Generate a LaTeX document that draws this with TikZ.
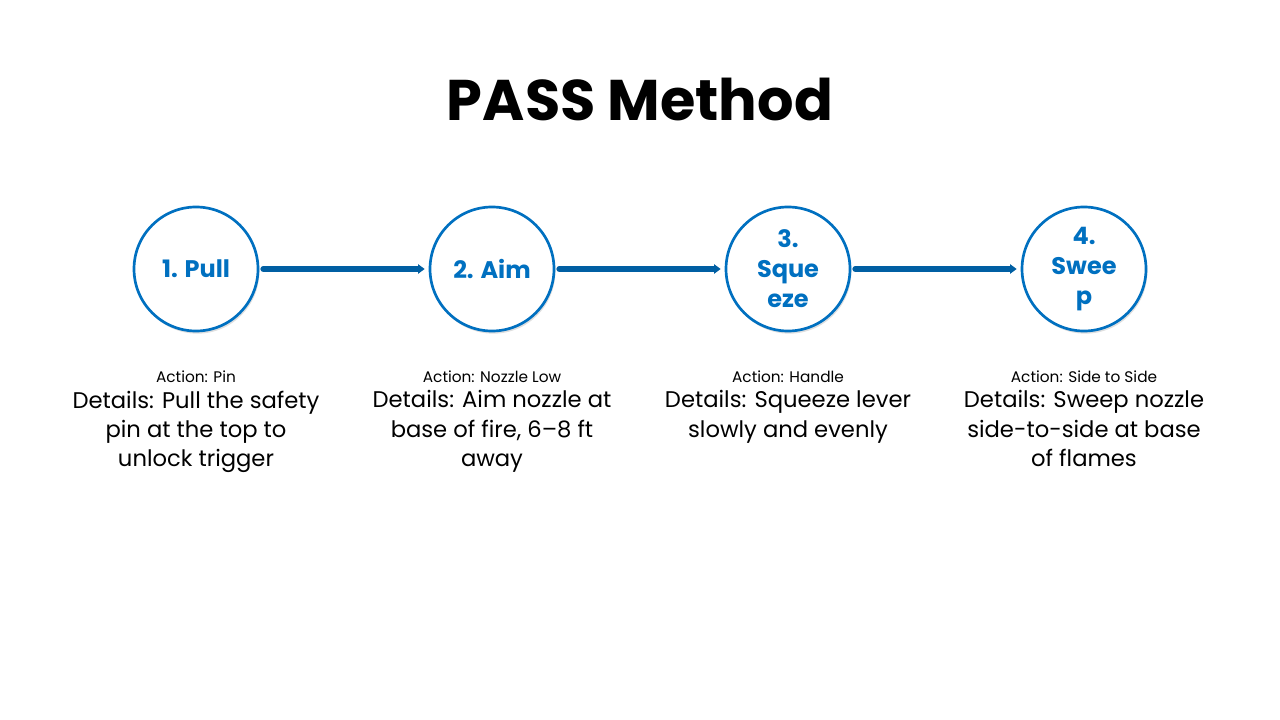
\documentclass[tikz,border=0pt]{standalone}
\usepackage{fontspec}
\setmainfont{Poppins}
\usetikzlibrary{shadows,arrows.meta}
\definecolor{cblue}{RGB}{0,112,192}

\begin{document}
\begin{tikzpicture}[x=0.75pt,y=-0.75pt,line cap=round,line join=round,
  stage/.style={circle,draw=cblue,line width=2pt,fill=white,minimum size=93pt,inner sep=0pt,align=center,
    font=\fontsize{18}{22.5}\selectfont\bfseries,text=cblue,
    drop shadow={shadow xshift=1pt,shadow yshift=-2pt,opacity=0.25}},
  link/.style={-{Triangle[length=5pt,width=7pt]},line width=4.5pt,draw=cblue!85!black,
    shorten <=3pt,shorten >=3pt},
  act/.style={font=\fontsize{11.5}{13}\selectfont,anchor=base},
  info/.style={font=\fontsize{17}{22}\selectfont,align=center,anchor=north}]
\useasboundingbox (0,0) rectangle (1280,720);
\node[font=\fontsize{43}{48}\selectfont\bfseries] (title) at (640,100) {PASS Method};
\node[stage] (s1) at (196,269) {1. Pull};
\node[stage] (s2) at (492,269) {2. Aim};
\node[stage] (s3) at (788,269) {3.\\Sque\\eze};
\node[stage] (s4) at (1084,269) {4.\\Swee\\p};
\draw[link] (s1) -- (s2);
\draw[link] (s2) -- (s3);
\draw[link] (s3) -- (s4);
\node[act] (a1) at (196,382) {Action: Pin};
\node[act] (a2) at (492,382) {Action: Nozzle Low};
\node[act] (a3) at (788,382) {Action: Handle};
\node[act] (a4) at (1084,382) {Action: Side to Side};
\node[info] (d1) at (196,386) {Details: Pull the safety\\pin at the top to\\unlock trigger};
\node[info] (d2) at (492,386) {Details: Aim nozzle at\\base of fire, 6–8 ft\\away};
\node[info] (d3) at (788,386) {Details: Squeeze lever\\slowly and evenly};
\node[info] (d4) at (1084,386) {Details: Sweep nozzle\\side-to-side at base\\of flames};
\end{tikzpicture}
\end{document}
